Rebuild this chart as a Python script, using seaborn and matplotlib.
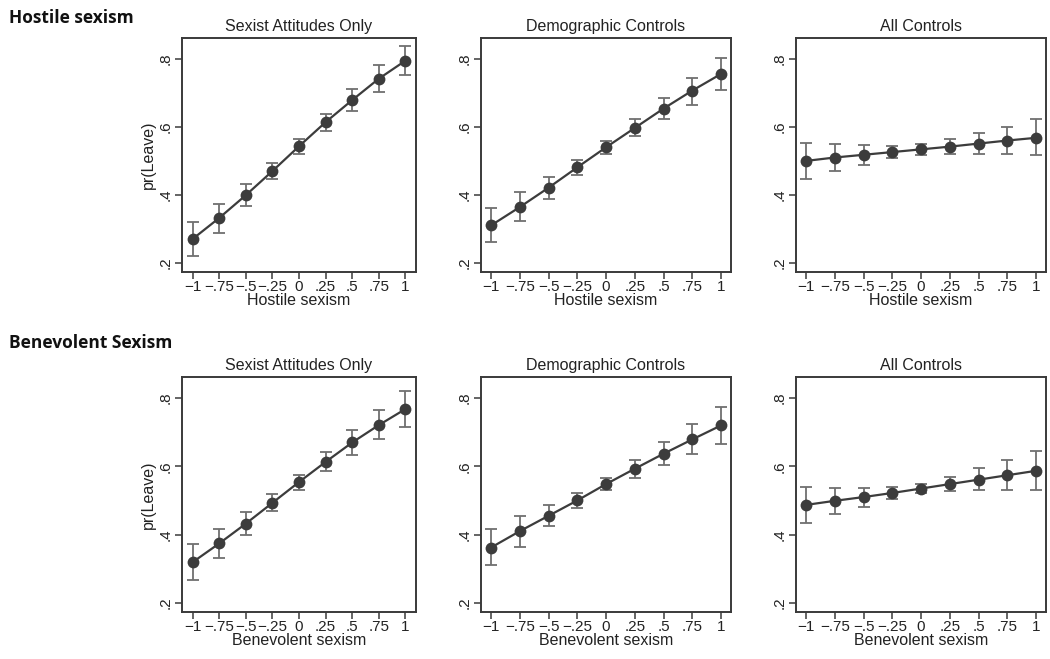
import matplotlib
matplotlib.use("Agg")
import matplotlib.pyplot as plt
import seaborn as sns
import numpy as np

# predicted pr(Leave) at each level of the sexism scale, with 95% CI bounds
x_vals = [-1, -0.75, -0.5, -0.25, 0, 0.25, 0.5, 0.75, 1]
x_ticklabels = ["\u22121", "\u2212.75", "\u2212.5", "\u2212.25", "0", ".25", ".5", ".75", "1"]
y_ticks = [0.2, 0.4, 0.6, 0.8]
y_ticklabels = [".2", ".4", ".6", ".8"]

panel_titles = ["Sexist Attitudes Only", "Demographic Controls", "All Controls"]
row_titles = ["Hostile sexism", "Benevolent Sexism"]
row_xlabels = ["Hostile sexism", "Benevolent sexism"]

hostile_only = [0.270, 0.332, 0.399, 0.470, 0.543, 0.614, 0.679, 0.742, 0.795]
hostile_only_lo = [0.221, 0.287, 0.366, 0.446, 0.521, 0.589, 0.647, 0.702, 0.752]
hostile_only_hi = [0.319, 0.374, 0.431, 0.493, 0.564, 0.638, 0.713, 0.782, 0.838]

hostile_demo = [0.310, 0.364, 0.421, 0.481, 0.540, 0.597, 0.654, 0.707, 0.756]
hostile_demo_lo = [0.260, 0.322, 0.387, 0.459, 0.521, 0.572, 0.623, 0.665, 0.710]
hostile_demo_hi = [0.361, 0.407, 0.454, 0.503, 0.560, 0.623, 0.684, 0.743, 0.802]

hostile_all = [0.500, 0.510, 0.518, 0.526, 0.534, 0.542, 0.551, 0.560, 0.568]
hostile_all_lo = [0.447, 0.471, 0.488, 0.508, 0.518, 0.521, 0.521, 0.521, 0.518]
hostile_all_hi = [0.552, 0.549, 0.547, 0.545, 0.550, 0.564, 0.581, 0.601, 0.623]

benev_only = [0.319, 0.374, 0.432, 0.493, 0.554, 0.613, 0.670, 0.721, 0.768]
benev_only_lo = [0.268, 0.331, 0.400, 0.469, 0.532, 0.586, 0.633, 0.680, 0.716]
benev_only_hi = [0.371, 0.417, 0.466, 0.518, 0.576, 0.642, 0.706, 0.764, 0.820]

benev_demo = [0.362, 0.410, 0.455, 0.500, 0.548, 0.593, 0.637, 0.679, 0.720]
benev_demo_lo = [0.310, 0.365, 0.425, 0.478, 0.530, 0.565, 0.603, 0.635, 0.665]
benev_demo_hi = [0.415, 0.455, 0.487, 0.523, 0.567, 0.620, 0.672, 0.725, 0.775]

benev_all = [0.487, 0.499, 0.510, 0.522, 0.535, 0.548, 0.561, 0.574, 0.587]
benev_all_lo = [0.435, 0.460, 0.482, 0.505, 0.522, 0.528, 0.530, 0.530, 0.530]
benev_all_hi = [0.540, 0.538, 0.538, 0.540, 0.548, 0.570, 0.595, 0.618, 0.645]

panels = [
    [(hostile_only, hostile_only_lo, hostile_only_hi),
     (hostile_demo, hostile_demo_lo, hostile_demo_hi),
     (hostile_all, hostile_all_lo, hostile_all_hi)],
    [(benev_only, benev_only_lo, benev_only_hi),
     (benev_demo, benev_demo_lo, benev_demo_hi),
     (benev_all, benev_all_lo, benev_all_hi)],
]

sns.set_theme(style="white")
plt.rcParams["font.family"] = ["Liberation Sans", "DejaVu Sans"]

fig = plt.figure(figsize=(10.5, 6.59), dpi=100)

# axes boxes in figure fractions (left, width) per column and (bottom, height) per row
col_boxes = [(0.1733, 0.2229), (0.4581, 0.2381), (0.7581, 0.2381)]
row_boxes = [(0.5873, 0.3551), (0.0713, 0.3566)]
xlims = [(-1.1, 1.1), (-1.087, 1.087), (-1.087, 1.087)]

line_col = "#3c3c3c"
err_col = "#707070"
spine_col = "#3a3a3a"

for r in range(2):
    for c in range(3):
        left, width = col_boxes[c]
        bottom, height = row_boxes[r]
        ax = fig.add_axes([left, bottom, width, height])
        mean, lo, hi = panels[r][c]
        mean = np.array(mean)
        yerr = [mean - np.array(lo), np.array(hi) - mean]
        ax.errorbar(x_vals, mean, yerr=yerr, fmt="none", ecolor=err_col,
                    elinewidth=1.3, capsize=4, capthick=1.3, zorder=2)
        sns.lineplot(x=x_vals, y=mean, ax=ax, color=line_col, linewidth=1.6,
                     marker="o", markersize=8.5, markeredgewidth=0,
                     markerfacecolor=line_col, zorder=3)
        ax.set_xlim(*xlims[c])
        ax.set_ylim(0.173, 0.862)
        ax.set_xticks(x_vals)
        ax.set_xticklabels(x_ticklabels, fontsize=11)
        ax.set_yticks(y_ticks)
        ax.set_yticklabels(y_ticklabels, fontsize=11, rotation=90, va="center")
        ax.tick_params(axis="both", direction="out", length=5, width=1.1,
                       color=spine_col, pad=2, labelcolor="#222222")
        ax.tick_params(axis="x", pad=1)
        ax.tick_params(left=True, bottom=True)
        for s in ax.spines.values():
            s.set_visible(True)
            s.set_color(spine_col)
            s.set_linewidth(1.4)
        ax.set_title(panel_titles[c], fontsize=11.5, color="#222222", pad=5)
        ax.set_xlabel(row_xlabels[r], fontsize=11.5, color="#222222", labelpad=-1)
        if c == 0:
            ax.set_ylabel("pr(Leave)", fontsize=11.5, color="#222222", labelpad=2)
        else:
            ax.set_ylabel("")
        ax.grid(False)

fig.text(0.009, 0.972, row_titles[0], fontsize=12.5, fontweight="bold",
         family=["Open Sans", "DejaVu Sans"], va="center", ha="left", color="#111111")
fig.text(0.009, 0.480, row_titles[1], fontsize=12.5, fontweight="bold",
         family=["Open Sans", "DejaVu Sans"], va="center", ha="left", color="#111111")

fig.savefig("out.png", dpi=100, facecolor="white")
